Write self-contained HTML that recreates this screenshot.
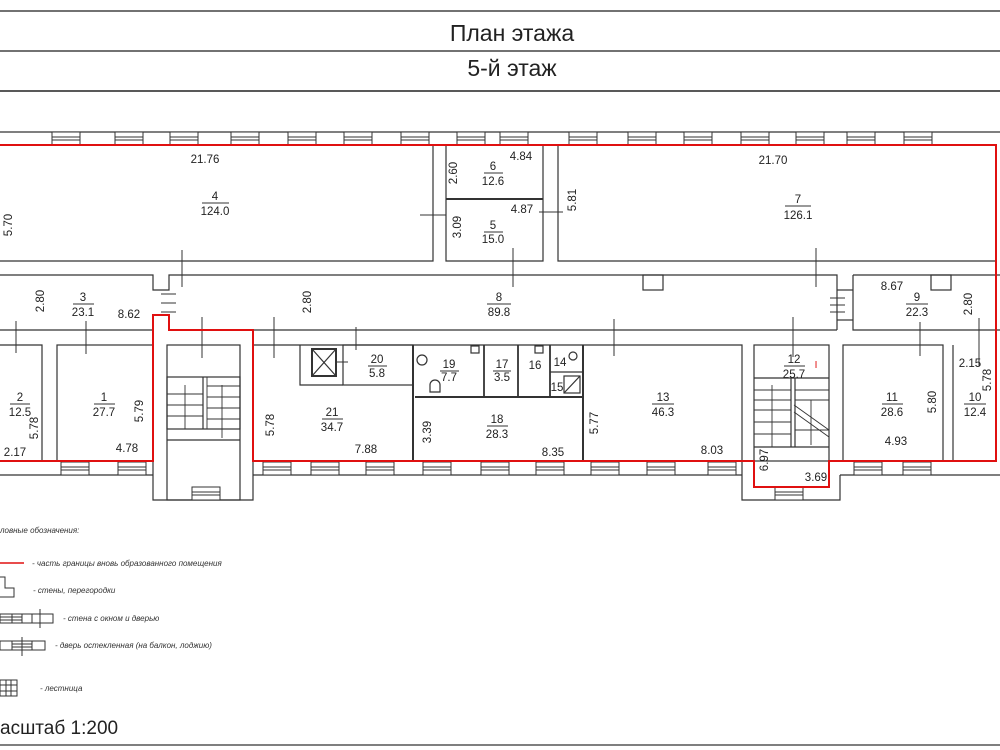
<!DOCTYPE html>
<html><head><meta charset="utf-8"><style>
html,body{margin:0;padding:0;background:#fff;}
svg{display:block;}
text{font-family:"Liberation Sans",sans-serif;fill:#222;}
.l{font-size:11.5px;text-anchor:middle;}
.it{font-size:8px;font-style:italic;fill:#333;}
</style></head><body>
<svg width="1000" height="750" viewBox="0 0 1000 750" xmlns="http://www.w3.org/2000/svg">
<defs>
<g id="w"><rect x="0" y="0" width="28" height="13" fill="#fff" stroke="#333" stroke-width="1"/><line x1="0" y1="5" x2="28" y2="5" stroke="#333"/><line x1="0" y1="8" x2="28" y2="8" stroke="#333"/></g>
</defs>
<!-- title -->
<line x1="0" y1="11" x2="1000" y2="11" stroke="#444" stroke-width="1.5"/>
<line x1="0" y1="51" x2="1000" y2="51" stroke="#444" stroke-width="1.5"/>
<line x1="0" y1="91" x2="1000" y2="91" stroke="#222" stroke-width="1.5"/>
<text x="512" y="41" font-size="23" text-anchor="middle">План этажа</text>
<text x="512" y="76" font-size="23" text-anchor="middle">5-й этаж</text>

<g fill="none" stroke="#333" stroke-width="1.2">
<!-- outer walls -->
<line x1="0" y1="132" x2="1000" y2="132"/>
<line x1="0" y1="475" x2="153" y2="475"/>
<line x1="253" y1="475" x2="742" y2="475"/>
<line x1="840" y1="475" x2="1000" y2="475"/>
<!-- room 4 -->
<polyline points="0,261 433,261 433,145"/>
<!-- 6/5 -->
<polyline points="446,145 446,261 543,261 543,145"/>
<line x1="446" y1="199" x2="543" y2="199" stroke-width="2"/>
<!-- room 7 -->
<polyline points="558,145 558,261 996,261"/>
<!-- corridor -->
<polyline points="0,275 153,275 153,290 169,290 169,275 837,275 837,330"/>
<polyline points="0,330 153,330"/>
<polyline points="169,330 837,330"/>
<polyline points="853,275 1000,275"/>
<polyline points="853,275 853,330 1000,330"/>
<polyline points="837,290 853,290"/><polyline points="837,320 853,320"/>
<rect x="643" y="275" width="20" height="15"/>
<rect x="931" y="275" width="20" height="15"/>
<!-- lower rooms -->
<polyline points="0,345 42,345 42,461"/>
<rect x="57" y="345" width="96" height="116"/>
<!-- stair left -->
<polyline points="153,461 153,500 253,500 253,461"/>
<rect x="167" y="345" width="73" height="155"/>
<rect x="167" y="377" width="73" height="52"/>
<line x1="203" y1="377" x2="203" y2="429"/>
<g stroke-width="0.9">
<line x1="167" y1="394" x2="203" y2="394"/><line x1="167" y1="405" x2="203" y2="405"/><line x1="167" y1="416" x2="203" y2="416"/>
<line x1="207" y1="386" x2="240" y2="386"/><line x1="207" y1="397" x2="240" y2="397"/><line x1="207" y1="408" x2="240" y2="408"/><line x1="207" y1="419" x2="240" y2="419"/>
<line x1="185" y1="385" x2="185" y2="429"/><line x1="222" y1="385" x2="222" y2="438"/>
<line x1="207" y1="377" x2="207" y2="429"/>
</g>
<line x1="167" y1="440" x2="240" y2="440"/>
<!-- 21 / 20 / elevator -->
<polyline points="300,345 300,385 343,385"/>
<rect x="343" y="345" width="70" height="40"/>
<rect x="312" y="349" width="24" height="27" stroke-width="2"/>
<line x1="312" y1="349" x2="336" y2="376"/><line x1="336" y1="349" x2="312" y2="376"/>
<line x1="413" y1="345" x2="413" y2="461" stroke-width="2"/>
<line x1="415" y1="397" x2="583" y2="397" stroke-width="2"/>
<line x1="484" y1="345" x2="484" y2="397" stroke-width="1.8"/>
<line x1="518" y1="345" x2="518" y2="397" stroke-width="1.8"/>
<line x1="550" y1="345" x2="550" y2="397" stroke-width="1.8"/>
<line x1="550" y1="372" x2="583" y2="372"/>
<rect x="564" y="376" width="16" height="17"/>
<line x1="564" y1="393" x2="580" y2="376"/>
<circle cx="573" cy="356" r="4"/>
<circle cx="422" cy="360" r="5"/>
<path d="M430,392 v-7 a5,5 0 0 1 10,0 v7 z"/>
<rect x="471" y="346" width="8" height="7"/>
<rect x="535" y="346" width="8" height="7"/>
<line x1="583" y1="345" x2="583" y2="461" stroke-width="2"/>
<!-- 13 -->
<polyline points="253,345 742,345 742,475"/>
<!-- stair right -->
<rect x="754" y="345" width="75" height="116"/>
<polyline points="742,475 742,500 840,500 840,475"/>
<line x1="754" y1="378" x2="829" y2="378"/>
<line x1="754" y1="447" x2="829" y2="447"/>
<line x1="791" y1="378" x2="791" y2="447"/><line x1="795" y1="378" x2="795" y2="447"/>
<g stroke-width="0.9">
<line x1="754" y1="390" x2="791" y2="390"/><line x1="754" y1="400" x2="791" y2="400"/><line x1="754" y1="410" x2="791" y2="410"/><line x1="754" y1="422" x2="791" y2="422"/><line x1="754" y1="434" x2="791" y2="434"/>
<line x1="795" y1="390" x2="829" y2="390"/><line x1="795" y1="400" x2="829" y2="400"/><line x1="795" y1="430" x2="829" y2="430"/>
<line x1="794" y1="405" x2="829" y2="430"/><line x1="794" y1="412" x2="829" y2="437"/>
<line x1="772" y1="385" x2="772" y2="447"/><line x1="811" y1="400" x2="811" y2="445"/>
</g>
<!-- 11, 10 -->
<rect x="843" y="345" width="100" height="116"/>
<line x1="953" y1="345" x2="953" y2="461"/>
<!-- doors ticks -->
<g stroke-width="1">
<line x1="182" y1="250" x2="182" y2="287"/><line x1="170" y1="261" x2="196" y2="261"/><line x1="170" y1="275" x2="196" y2="275"/>
<line x1="420" y1="215" x2="446" y2="215"/><line x1="433" y1="203" x2="433" y2="230"/>
<line x1="539" y1="212" x2="563" y2="212"/>
<line x1="513" y1="248" x2="513" y2="287"/>
<line x1="816" y1="248" x2="816" y2="287"/>
<line x1="830" y1="298" x2="845" y2="298"/><line x1="830" y1="305" x2="845" y2="305"/><line x1="830" y1="312" x2="845" y2="312"/>
<line x1="161" y1="294" x2="176" y2="294"/><line x1="161" y1="303" x2="176" y2="303"/><line x1="161" y1="312" x2="176" y2="312"/>
<line x1="16" y1="321" x2="16" y2="353"/><line x1="86" y1="321" x2="86" y2="354"/>
<line x1="202" y1="317" x2="202" y2="358"/>
<line x1="274" y1="317" x2="274" y2="358"/>
<line x1="356" y1="327" x2="356" y2="350"/>
<line x1="614" y1="319" x2="614" y2="356"/>
<line x1="793" y1="317" x2="793" y2="357"/>
<line x1="920" y1="322" x2="920" y2="356"/>
<line x1="979" y1="318" x2="979" y2="366"/>
<line x1="336" y1="362" x2="348" y2="362"/>
</g>
</g>
<!-- windows top -->
<g>
<use href="#w" x="52" y="132"/><use href="#w" x="115" y="132"/><use href="#w" x="170" y="132"/><use href="#w" x="231" y="132"/><use href="#w" x="288" y="132"/><use href="#w" x="344" y="132"/><use href="#w" x="401" y="132"/><use href="#w" x="457" y="132"/><use href="#w" x="500" y="132"/><use href="#w" x="569" y="132"/><use href="#w" x="628" y="132"/><use href="#w" x="684" y="132"/><use href="#w" x="741" y="132"/><use href="#w" x="796" y="132"/><use href="#w" x="847" y="132"/><use href="#w" x="904" y="132"/>
<use href="#w" x="61" y="462"/><use href="#w" x="118" y="462"/><use href="#w" x="263" y="462"/><use href="#w" x="311" y="462"/><use href="#w" x="366" y="462"/><use href="#w" x="423" y="462"/><use href="#w" x="481" y="462"/><use href="#w" x="536" y="462"/><use href="#w" x="591" y="462"/><use href="#w" x="647" y="462"/><use href="#w" x="708" y="462"/><use href="#w" x="854" y="462"/><use href="#w" x="903" y="462"/>
<use href="#w" x="192" y="487"/><use href="#w" x="775" y="487"/>
</g>
<!-- red boundary -->
<polyline fill="none" stroke="#e01010" stroke-width="2" points="0,145 996,145 996,461 829,461 829,487 754,487 754,461 253,461 253,330 169,330 169,315 153,315 153,461 0,461"/>
<!-- labels -->
<g class="l">
<text x="205" y="163">21.76</text>
<text x="215" y="200">4</text><line x1="202" y1="203" x2="229" y2="203" stroke="#333"/><text x="215" y="215">124.0</text>
<text x="12" y="225" transform="rotate(-90 12 225)">5.70</text>
<text x="457" y="173" transform="rotate(-90 457 173)">2.60</text>
<text x="493" y="170">6</text><line x1="484" y1="173" x2="503" y2="173" stroke="#333"/><text x="493" y="185">12.6</text>
<text x="521" y="160">4.84</text>
<text x="522" y="213">4.87</text>
<text x="461" y="227" transform="rotate(-90 461 227)">3.09</text>
<text x="493" y="229">5</text><line x1="484" y1="232" x2="503" y2="232" stroke="#333"/><text x="493" y="243">15.0</text>
<text x="576" y="200" transform="rotate(-90 576 200)">5.81</text>
<text x="773" y="164">21.70</text>
<text x="798" y="203">7</text><line x1="785" y1="206" x2="811" y2="206" stroke="#333"/><text x="798" y="219">126.1</text>
<text x="44" y="301" transform="rotate(-90 44 301)">2.80</text>
<text x="83" y="301">3</text><line x1="73" y1="304" x2="94" y2="304" stroke="#333"/><text x="83" y="316">23.1</text>
<text x="129" y="318">8.62</text>
<text x="311" y="302" transform="rotate(-90 311 302)">2.80</text>
<text x="499" y="301">8</text><line x1="487" y1="304" x2="511" y2="304" stroke="#333"/><text x="499" y="316">89.8</text>
<text x="892" y="290">8.67</text>
<text x="917" y="301">9</text><line x1="906" y1="304" x2="928" y2="304" stroke="#333"/><text x="917" y="316">22.3</text>
<text x="972" y="304" transform="rotate(-90 972 304)">2.80</text>
<text x="20" y="401">2</text><line x1="10" y1="404" x2="30" y2="404" stroke="#333"/><text x="20" y="416">12.5</text>
<text x="38" y="428" transform="rotate(-90 38 428)">5.78</text>
<text x="15" y="456">2.17</text>
<text x="104" y="401">1</text><line x1="94" y1="404" x2="115" y2="404" stroke="#333"/><text x="104" y="416">27.7</text>
<text x="143" y="411" transform="rotate(-90 143 411)">5.79</text>
<text x="127" y="452">4.78</text>
<text x="274" y="425" transform="rotate(-90 274 425)">5.78</text>
<text x="332" y="416">21</text><line x1="322" y1="419" x2="343" y2="419" stroke="#333"/><text x="332" y="431">34.7</text>
<text x="366" y="453">7.88</text>
<text x="377" y="363">20</text><line x1="368" y1="366" x2="387" y2="366" stroke="#333"/><text x="377" y="377">5.8</text>
<text x="449" y="368">19</text><line x1="440" y1="371" x2="459" y2="371" stroke="#333"/><text x="449" y="381">7.7</text>
<text x="502" y="368">17</text><line x1="493" y1="371" x2="511" y2="371" stroke="#333"/><text x="502" y="381">3.5</text>
<text x="535" y="369">16</text>
<text x="560" y="366">14</text>
<text x="557" y="391">15</text>
<text x="431" y="432" transform="rotate(-90 431 432)">3.39</text>
<text x="497" y="423">18</text><line x1="487" y1="426" x2="508" y2="426" stroke="#333"/><text x="497" y="438">28.3</text>
<text x="553" y="456">8.35</text>
<text x="598" y="423" transform="rotate(-90 598 423)">5.77</text>
<text x="663" y="401">13</text><line x1="652" y1="404" x2="674" y2="404" stroke="#333"/><text x="663" y="416">46.3</text>
<text x="712" y="454">8.03</text>
<text x="794" y="363">12</text><line x1="784" y1="366" x2="805" y2="366" stroke="#333"/><text x="794" y="378">25.7</text>
<text x="816" y="368" style="fill:#e01010" font-size="10">I</text>
<text x="768" y="460" transform="rotate(-90 768 460)">6.97</text>
<text x="816" y="481">3.69</text>
<text x="892" y="401">11</text><line x1="882" y1="404" x2="903" y2="404" stroke="#333"/><text x="892" y="416">28.6</text>
<text x="936" y="402" transform="rotate(-90 936 402)">5.80</text>
<text x="896" y="445">4.93</text>
<text x="970" y="367">2.15</text>
<text x="991" y="380" transform="rotate(-90 991 380)">5.78</text>
<text x="975" y="401">10</text><line x1="964" y1="404" x2="986" y2="404" stroke="#333"/><text x="975" y="416">12.4</text>
</g>
<!-- legend -->
<text x="0" y="533" class="it">ловные обозначения:</text>
<line x1="0" y1="563" x2="24" y2="563" stroke="#e01010" stroke-width="1.5"/>
<text x="32" y="566" class="it">-  часть границы вновь образованного помещения</text>
<polyline points="0,577 5,577 5,588 14,588 14,597 0,597" fill="none" stroke="#333"/>
<text x="33" y="593" class="it">-  стены, перегородки</text>
<g fill="none" stroke="#333">
<rect x="0" y="614" width="53" height="9"/><line x1="12" y1="614" x2="12" y2="623"/><line x1="22" y1="614" x2="22" y2="623"/><line x1="0" y1="617" x2="22" y2="617"/><line x1="0" y1="620" x2="22" y2="620"/><line x1="32" y1="614" x2="32" y2="623"/><line x1="40" y1="609" x2="40" y2="628"/>
<rect x="0" y="641" width="45" height="9"/><line x1="12" y1="641" x2="12" y2="650"/><line x1="32" y1="641" x2="32" y2="650"/><line x1="12" y1="644" x2="32" y2="644"/><line x1="12" y1="647" x2="32" y2="647"/><line x1="22" y1="637" x2="22" y2="656"/>
<rect x="0" y="680" width="17" height="16"/><line x1="6" y1="680" x2="6" y2="696"/><line x1="11" y1="680" x2="11" y2="696"/><line x1="0" y1="685" x2="17" y2="685"/><line x1="0" y1="691" x2="17" y2="691"/>
</g>
<text x="63" y="621" class="it">-  стена с окном и дверью</text>
<text x="55" y="648" class="it">-  дверь остекленная (на балкон, лоджию)</text>
<text x="40" y="691" class="it">-  лестница</text>
<text x="0" y="734" font-size="19">асштаб 1:200</text>
<line x1="0" y1="745" x2="1000" y2="745" stroke="#555" stroke-width="1.5"/>
</svg>
</body></html>
